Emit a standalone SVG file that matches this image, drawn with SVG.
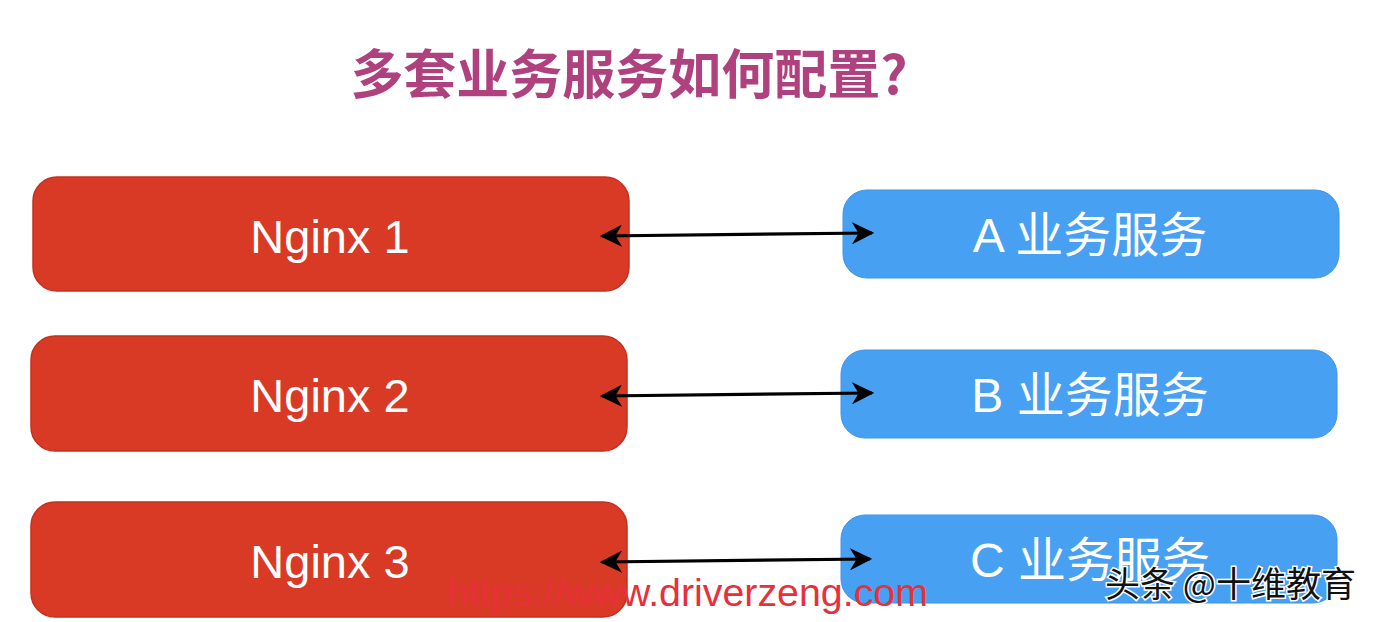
<svg xmlns="http://www.w3.org/2000/svg" width="1378" height="622" viewBox="0 0 1378 622">
<defs>
<style>
.red{fill:#d83a26;stroke:#c5311f;stroke-width:1.5}
.blue{fill:#47a0f2;stroke:#3f95e6;stroke-width:1}
.lbl{font-family:"Liberation Sans","Noto Sans CJK SC",sans-serif;font-size:47px;fill:#ffffff;text-anchor:middle}
.lbl2{font-size:48px}
.con{stroke:#000;stroke-width:3.2;fill:none;marker-start:url(#ah);marker-end:url(#ah)}
</style>
<marker id="ah" viewBox="0 0 10 10" refX="9" refY="5" markerWidth="7" markerHeight="7" orient="auto-start-reverse" markerUnits="strokeWidth">
<path d="M0,0 L10,5 L0,10 L3,5 Z" fill="#000"/>
</marker>
</defs>
<rect width="1378" height="622" fill="#ffffff"/>
<text x="629" y="94" font-family="'Noto Sans CJK SC',sans-serif" font-weight="bold" font-size="53" fill="#b0417f" text-anchor="middle">多套业务服务如何配置?</text>
<g id="nginx1"><rect class="red" x="33" y="177" width="596" height="114" rx="24"/><text class="lbl" x="330" y="253">Nginx 1</text></g>
<g id="nginx2"><rect class="red" x="31" y="336" width="596" height="115" rx="24"/><text class="lbl" x="330" y="412">Nginx 2</text></g>
<g id="nginx3"><rect class="red" x="31" y="502" width="596" height="115" rx="24"/><text class="lbl" x="330" y="578">Nginx 3</text></g>
<g id="svcA"><rect class="blue" x="843" y="190" width="496" height="88" rx="24"/><text class="lbl lbl2" x="1090" y="252">A 业务服务</text></g>
<g id="svcB"><rect class="blue" x="841" y="350" width="496" height="88" rx="24"/><text class="lbl lbl2" x="1090" y="412">B 业务服务</text></g>
<g id="svcC"><rect class="blue" x="841" y="515" width="496" height="88" rx="24"/><text class="lbl lbl2" x="1090" y="577">C 业务服务</text></g>
<g id="connectors">
<line class="con" x1="602" y1="236" x2="872" y2="233"/>
<line class="con" x1="602" y1="396" x2="872" y2="393"/>
<line class="con" x1="602" y1="562" x2="870" y2="559"/>
</g>
<text x="447" y="606" font-family="'Liberation Sans',sans-serif" font-size="38" fill="#e8303a" textLength="481" lengthAdjust="spacingAndGlyphs">https://www.driverzeng.com</text>
<text x="1105" y="597" font-family="'Noto Sans CJK SC',sans-serif" font-size="35" fill="#111" stroke="#fff" stroke-width="3" paint-order="stroke">头条 @十维教育</text>
</svg>
